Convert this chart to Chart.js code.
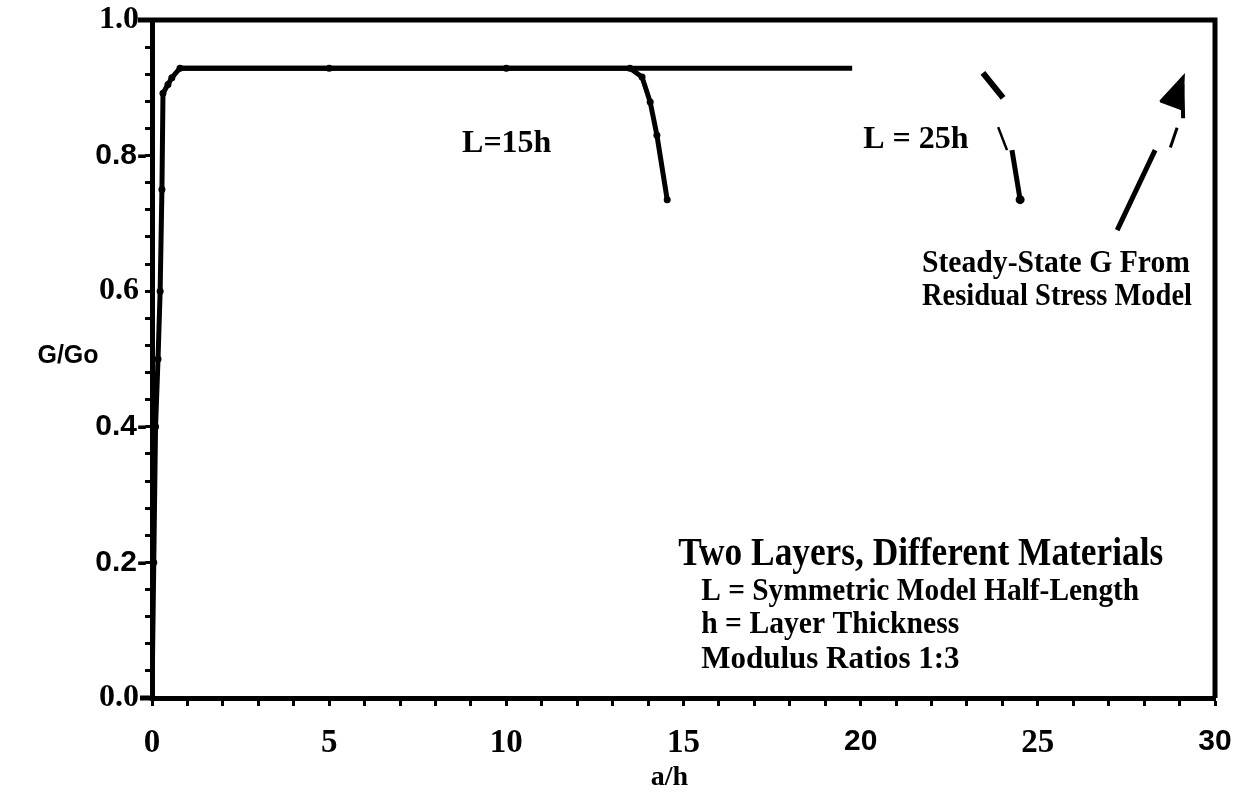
<!DOCTYPE html>
<html><head><meta charset="utf-8">
<script src="https://cdn.jsdelivr.net/npm/chart.js@4"></script>
<style>html,body{margin:0;padding:0;background:#fff}#wrap{width:1247px;height:792px;position:relative}canvas{display:block}</style>
</head><body><div id="wrap"><canvas id="c" width="1247" height="792" style="width:1247px;height:792px"></canvas></div>
<script>
// ---- data ----
const l15X = [0, 0.05, 0.10, 0.17, 0.23, 0.28, 0.31, 0.45, 0.56, 0.79, 5.0, 10.0, 13.49, 13.83, 14.06, 14.25, 14.54];
const l15Y = [0, 0.20, 0.40, 0.50, 0.60, 0.75, 0.892, 0.905, 0.915, 0.929, 0.929, 0.929, 0.929, 0.916, 0.879, 0.83, 0.735];
const l25X = [0.79, 19.76, null, 23.45, 24.02, null, 23.88, 24.13, null, 24.27, 24.5];
const l25Y = [0.929, 0.929, null, 0.922, 0.885, null, 0.842, 0.808, null, 0.808, 0.735];
const arrowX = [27.24, 28.31, null, 28.74, 28.93];
const arrowY = [0.69, 0.808, null, 0.812, 0.841];
const headX = [28.45, 29.12, 29.08, 28.45];
const headY = [0.880, 0.918, 0.868, 0.880];
const stemX = [29.08, 29.10];
const stemY = [0.905, 0.855];
const xMajor = [0, 5, 10, 15, 20, 25, 30];
const xTickLabels = ['0', '5', '10', '15', '20', '25', '30'];
const yMajor = [0, 0.2, 0.4, 0.6, 0.8, 1.0];
const yTickLabels = ['0.0 ', '0.2-', '0.4-', '0.6 ', '0.8-', '1.0 '];
const xSerif = ['0', '5', '10', '15', '25'];
const ySerif = ['0.0 ', '0.6 ', '1.0 '];

function pts(xs, ys) { return xs.map((x, i) => (x === null ? {x: NaN, y: null} : {x: x, y: ys[i]})); }

const SERIF = '"Liberation Serif", "Times New Roman", serif';
const SANS = '"Liberation Sans", Arial, sans-serif';

// annotation texts placed in data coordinates
const notes = [
  {t: 'L=15h', x: 8.75, y: 0.805, size: 32, w: 95, font: SERIF},
  {t: 'L = 25h', x: 20.07, y: 0.811, size: 32, w: 109, font: SERIF},
  {t: 'Steady-State G From', x: 21.73, y: 0.628, size: 32, w: 268, font: SERIF},
  {t: 'Residual Stress Model', x: 21.73, y: 0.580, size: 32, w: 270, font: SERIF},
  {t: 'Two Layers, Different Materials', x: 14.85, y: 0.196, size: 40, w: 485, font: SERIF},
  {t: 'L = Symmetric Model Half-Length', x: 15.5, y: 0.144, size: 31, w: 438, font: SERIF},
  {t: 'h = Layer Thickness', x: 15.5, y: 0.096, size: 31, w: 258, font: SERIF},
  {t: 'Modulus Ratios 1:3', x: 15.5, y: 0.044, size: 31, w: 260, font: SERIF}
];

const textPlugin = {
  id: 'texts',
  afterDatasetsDraw(chart) {
    const ctx = chart.ctx, xs = chart.scales.x, ys = chart.scales.y, a = chart.chartArea;
    ctx.save();
    ctx.strokeStyle = '#000'; ctx.lineWidth = 5;
    ctx.beginPath();
    ctx.moveTo(a.left - 14, a.top); ctx.lineTo(a.right, a.top); ctx.lineTo(a.right, a.bottom);
    ctx.moveTo(a.left - 12, a.bottom); ctx.lineTo(a.left, a.bottom);
    ctx.stroke();
    ctx.fillStyle = '#000'; ctx.textBaseline = 'alphabetic'; ctx.textAlign = 'left';
    notes.forEach(n => {
      ctx.font = 'bold ' + n.size + 'px ' + n.font;
      ctx.fillText(n.t, xs.getPixelForValue(n.x), ys.getPixelForValue(n.y), n.w);
    });
    ctx.textAlign = 'center'; ctx.textBaseline = 'middle';
    ctx.font = 'bold 25px ' + SANS;
    ctx.fillText('G/Go', 68, ys.getPixelForValue(0.505));
    ctx.font = 'bold 28px ' + SERIF;
    ctx.fillText('a/h', xs.getPixelForValue(14.6), 778);
    ctx.restore();
  }
};

new Chart(document.getElementById('c'), {
  type: 'scatter',
  data: {
    datasets: [
      {label: 'L=15h', data: pts(l15X, l15Y), showLine: true, borderColor: '#000', backgroundColor: '#000',
       borderWidth: 5, pointRadius: 3.5, pointBorderWidth: 0, tension: 0},
      {label: 'L=25h', data: pts(l25X, l25Y), showLine: true, spanGaps: false, borderColor: '#000', backgroundColor: '#000',
       borderWidth: 5, pointRadius: c => (c.dataIndex === l25X.length - 1 ? 4.5 : 0), pointBorderWidth: 0,
       segment: {borderWidth: c => (c.p0DataIndex === 6 ? 2.5 : (c.p0DataIndex === 3 ? 6 : 5))}},
      {label: 'arrow', data: pts(arrowX, arrowY), showLine: true, spanGaps: false, borderColor: '#000',
       borderWidth: 5, pointRadius: 0, segment: {borderWidth: c => (c.p0DataIndex === 3 ? 3 : 5)}},
      {label: 'head', data: pts(headX, headY), showLine: true, borderColor: '#000', backgroundColor: '#000',
       borderWidth: 2, pointRadius: 0, fill: 'shape'},
      {label: 'stem', data: pts(stemX, stemY), showLine: true, borderColor: '#000',
       borderWidth: 4, pointRadius: 0}
    ]
  },
  options: {
    responsive: false,
    animation: false,
    devicePixelRatio: 1,
    layout: {padding: {top: 20, right: 32, left: 0, bottom: 0}},
    plugins: {legend: {display: false}, tooltip: {enabled: false}},
    scales: {
      x: {
        type: 'linear', min: 0, max: 30,
        afterFit: s => { s.height = 94; s.paddingLeft = 0; s.paddingRight = 0; },
        afterBuildTicks: s => { const t = []; for (let i = 0; i <= 30; i++) t.push({value: i}); s.ticks = t; },
        border: {display: true, color: '#000', width: 5},
        grid: {display: true, drawOnChartArea: false, drawTicks: true, tickLength: 8, tickColor: '#000', tickWidth: 3},
        ticks: {
          autoSkip: false, maxRotation: 0, color: '#000', padding: 18,
          callback: v => { const i = xMajor.indexOf(Math.round(v)); return (Math.abs(v - Math.round(v)) < 1e-6 && i >= 0) ? xTickLabels[i] : ''; },
          font: c => { const lab = c.tick && c.tick.label; return {family: xSerif.includes(lab) ? SERIF : SANS, size: xSerif.includes(lab) ? 33 : 30, weight: 'bold'}; }
        }
      },
      y: {
        type: 'linear', min: 0, max: 1.0,
        afterFit: s => { s.width = 152; s.paddingTop = 0; s.paddingBottom = 0; },
        afterBuildTicks: s => { const t = []; for (let i = 0; i <= 25; i++) t.push({value: i * 0.04}); s.ticks = t; },
        border: {display: true, color: '#000', width: 5},
        grid: {display: true, drawOnChartArea: false, drawTicks: true, tickLength: 7, tickColor: '#000', tickWidth: 3},
        ticks: {
          autoSkip: false, color: '#000', padding: -2,
          callback: v => { const k = Math.round(v * 100); if (k % 20 !== 0) return ''; return yTickLabels[k / 20]; },
          font: c => { const lab = c.tick && c.tick.label; return {family: ySerif.includes(lab) ? SERIF : SANS, size: ySerif.includes(lab) ? 32 : 30, weight: 'bold'}; }
        }
      }
    }
  },
  plugins: [textPlugin]
});
</script>
</body></html>
